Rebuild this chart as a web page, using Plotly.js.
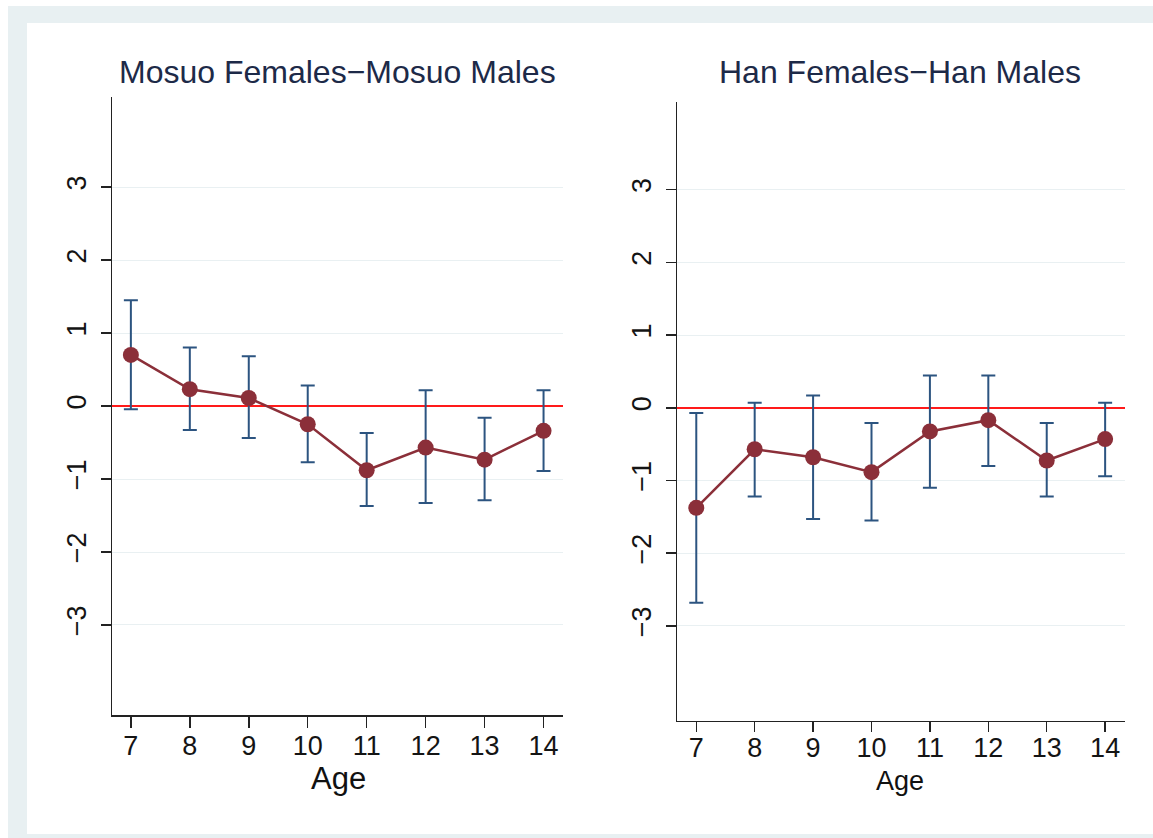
<!DOCTYPE html>
<html>
<head>
<meta charset="utf-8">
<script src="https://cdn.plot.ly/plotly-3.0.1.min.js"></script>
<style>
  html, body { margin: 0; padding: 0; background: #ffffff; }
  #chart { width: 1153px; height: 838px; }
</style>
</head>
<body>
<div id="chart"></div>
<script>
// ---- Data ----
const ages = [7, 8, 9, 10, 11, 12, 13, 14];

const mosuoMean  = [0.70, 0.23, 0.11, -0.25, -0.88, -0.57, -0.735, -0.34];
const mosuoUpper = [1.45, 0.80, 0.68, 0.28, -0.37, 0.215, -0.16, 0.215];
const mosuoLower = [-0.045, -0.33, -0.44, -0.77, -1.37, -1.33, -1.29, -0.89];

const hanMean  = [-1.375, -0.57, -0.68, -0.885, -0.325, -0.17, -0.725, -0.43];
const hanUpper = [-0.07, 0.07, 0.17, -0.21, 0.445, 0.445, -0.21, 0.07];
const hanLower = [-2.68, -1.22, -1.53, -1.55, -1.10, -0.80, -1.22, -0.94];

const yTicks = [-3, -2, -1, 0, 1, 2, 3];
const yTickText = ["\u22123", "\u22122", "\u22121", "0", "1", "2", "3"];
const panelTitles = ["Mosuo Females\u2212Mosuo Males", "Han Females\u2212Han Males"];
const xTitle = "Age";

// ---- Styles ----
const W = 1153, H = 838;
const FONT = "Liberation Sans, Arial, Helvetica, sans-serif";
const maroon = "#8b2f39";
const navy = "#2c5480";
const gridCol = "#e9f0f2";
const frameCol = "#e8f0f2";

function px(x) { return x / W; }
function py(y) { return 1 - y / H; }

function errTrace(mean, up, lo, xa, ya) {
  return {
    x: ages, y: mean, xaxis: xa, yaxis: ya,
    type: "scatter", mode: "markers",
    marker: { size: 1, color: "rgba(0,0,0,0)" },
    error_y: {
      type: "data", symmetric: false,
      array: up.map((u, i) => u - mean[i]),
      arrayminus: lo.map((l, i) => mean[i] - l),
      color: navy, thickness: 2, width: 7
    },
    hoverinfo: "skip", showlegend: false
  };
}
function meanTrace(mean, xa, ya) {
  return {
    x: ages, y: mean, xaxis: xa, yaxis: ya,
    type: "scatter", mode: "lines+markers",
    line: { color: maroon, width: 2.5 },
    marker: { color: maroon, size: 16 },
    showlegend: false
  };
}

const data = [
  errTrace(mosuoMean, mosuoUpper, mosuoLower, "x", "y"),
  meanTrace(mosuoMean, "x", "y"),
  errTrace(hanMean, hanUpper, hanLower, "x2", "y2"),
  meanTrace(hanMean, "x2", "y2")
];

function xAxis(domain, range, anchor, tlen, standoff) {
  return {
    domain: domain, range: range, anchor: anchor,
    tickvals: ages, ticktext: ages.map(String),
    ticks: "outside", ticklen: tlen, tickwidth: 1.5, tickcolor: "#222",
    showline: true, linecolor: "#222", linewidth: 1.5,
    showgrid: false, zeroline: false,
    tickfont: { family: FONT, size: 27, color: "#141414" },
    ticklabelstandoff: standoff,
    fixedrange: true
  };
}
function yAxis(domain, range, anchor) {
  return {
    domain: domain, range: range, anchor: anchor,
    tickvals: yTicks, ticktext: yTickText, tickangle: -90,
    ticks: "outside", ticklen: 10, tickwidth: 1.5, tickcolor: "#222",
    showline: true, linecolor: "#222", linewidth: 1.5,
    showgrid: true, gridcolor: gridCol, gridwidth: 1,
    zeroline: true, zerolinecolor: "#ff1a1a", zerolinewidth: 2,
    tickfont: { family: FONT, size: 27, color: "#141414" },
    ticklabelstandoff: 4,
    fixedrange: true
  };
}

function ann(text, x, y, size, color) {
  return { text: text, xref: "paper", yref: "paper", x: px(x), y: py(y),
    xanchor: "center", yanchor: "middle", showarrow: false,
    font: { family: FONT, size: size, color: color } };
}

const layout = {
  width: W, height: H,
  margin: { l: 0, r: 0, t: 0, b: 0, pad: 0 },
  paper_bgcolor: "#ffffff",
  plot_bgcolor: "rgba(0,0,0,0)",
  showlegend: false,
  xaxis: xAxis([px(112), px(563)], [6.68, 14.33], "y", 11, -5),
  yaxis: yAxis([py(715), py(97)], [-4.233, 4.233], "x"),
  xaxis2: xAxis([px(677), px(1125)], [6.67, 14.34], "y2", 10, -7),
  yaxis2: yAxis([py(720.5), py(102)], [-4.30, 4.205], "x2"),
  shapes: [
    { type: "rect", xref: "paper", yref: "paper", layer: "below",
      x0: px(8), x1: 1, y0: 0, y1: py(6), fillcolor: frameCol, line: { width: 0 } },
    { type: "rect", xref: "paper", yref: "paper", layer: "below",
      x0: px(27), x1: 1, y0: py(834), y1: py(23), fillcolor: "#ffffff", line: { width: 0 } }
  ],
  annotations: [
    ann(panelTitles[0], 337.5, 72, 32, "#1d2a48"),
    ann(panelTitles[1], 900, 72, 32, "#1d2a48"),
    ann(xTitle, 338, 778, 31, "#111111"),
    ann(xTitle, 900, 781, 27, "#111111")
  ]
};

Plotly.newPlot("chart", data, layout, { displayModeBar: false, staticPlot: true });
</script>
</body>
</html>
